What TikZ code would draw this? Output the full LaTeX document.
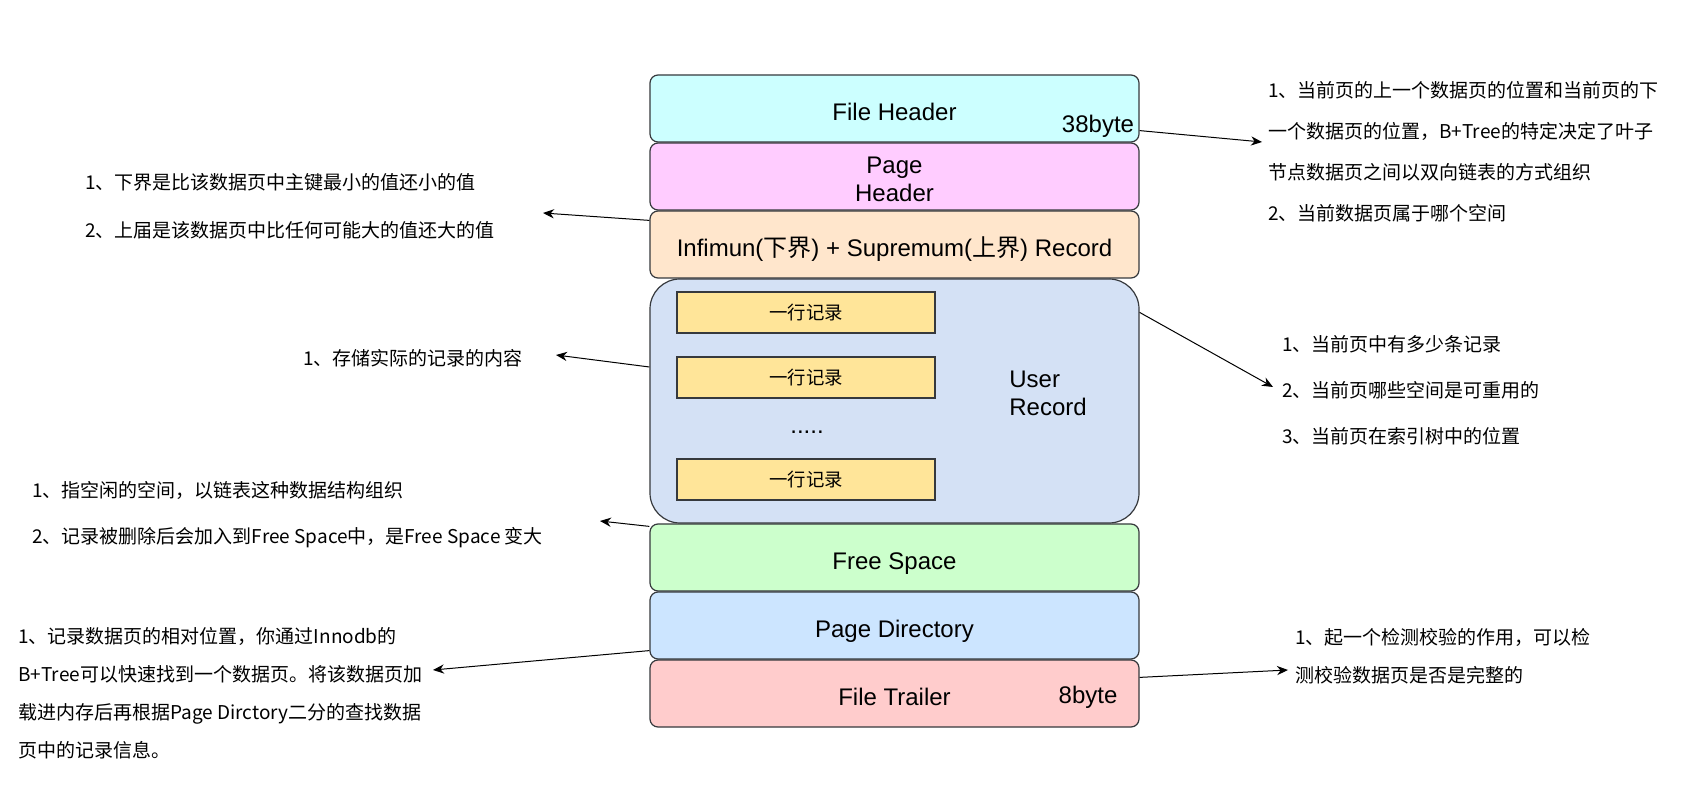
\documentclass[tikz,border=0pt]{standalone}
\usepackage{fontspec}
\setmainfont{Liberation Sans}
\newfontfamily\cjk{Noto Sans CJK SC}
\usetikzlibrary{arrows.meta,calc}
\definecolor{cFH}{HTML}{CCFFFF}
\definecolor{cPH}{HTML}{FFCCFF}
\definecolor{cIS}{HTML}{FFE6CC}
\definecolor{cUR}{HTML}{D4E1F5}
\definecolor{cRow}{HTML}{FFE599}
\definecolor{cFS}{HTML}{CCFFCC}
\definecolor{cPD}{HTML}{CCE5FF}
\definecolor{cFT}{HTML}{FFCCCC}
\definecolor{cEdge}{HTML}{36393D}
\begin{document}
\begin{tikzpicture}[x=0.5pt,y=-0.5pt,
  layer/.style={draw=cEdge, line width=0.6pt, rounded corners=4pt, minimum width=244.5pt, minimum height=33.5pt, inner sep=0pt, text height=12pt, text depth=0pt, font=\fontsize{12}{14}\selectfont, text=black},
  lbl/.style={inner sep=0pt, font=\fontsize{12}{14}\selectfont, text=black},
  rowbox/.style={draw=cEdge, line width=0.6pt, fill=cRow, minimum width=129pt, minimum height=20.5pt, inner sep=0pt, font=\cjk\fontsize{9.2}{11}\selectfont},
  note/.style={inner sep=0pt, anchor=west, align=left, font=\cjk\fontsize{9.5}{#1}\selectfont, text=black},
  note/.default=12,
  conn/.style={draw=black, line width=0.5pt, -{Stealth[length=5.5pt,width=4.6pt]}}
]
\path[fill=white] (0,0) rectangle (1686,806);
\useasboundingbox (0,0) rectangle (1686,806);

% page layers
\node[layer, fill=cFH] (fh) at (894.5,108.5) {File Header};
\node[lbl] (fhb) at (1098,126) {38byte};
\node[layer, fill=cPH] (ph) at (894.5,176.5) {};
\node[lbl, align=center] (pht) at (894.5,179) {Page\\Header};
\node[layer, fill=cIS] (is) at (894.5,244.5) {Infimun({\cjk 下界}) + Supremum({\cjk 上界}) Record};
\node[draw=cEdge, line width=0.6pt, fill=cUR, rounded corners=15pt, minimum width=244.5pt, minimum height=122pt, inner sep=0pt] (ur) at (894.5,401) {};
\node[lbl, anchor=west, align=left] (urt) at (1009,393) {User\\Record};
\node[rowbox] (r1) at (806,312.5) {一行记录};
\node[rowbox] (r2) at (806,377.5) {一行记录};
\node[lbl] (dots) at (807,432) {.....};
\node[rowbox] (r3) at (806,479.5) {一行记录};
\node[layer, fill=cFS] (fs) at (894.5,557.5) {Free Space};
\node[layer, fill=cPD] (pd) at (894.5,625.5) {Page Directory};
\node[layer, fill=cFT] (ft) at (894.5,693.5) {File Trailer};
\node[lbl] (ftb) at (1088,697) {8byte};

% notes
\node[note=20.5] (nA) at (1268,152) {1、当前页的上一个数据页的位置和当前页的下\\一个数据页的位置，B+Tree的特定决定了叶子\\节点数据页之间以双向链表的方式组织\\2、当前数据页属于哪个空间};
\node[note=24] (nB) at (85,206) {1、下界是比该数据页中主键最小的值还小的值\\2、上届是该数据页中比任何可能大的值还大的值};
\node[note] (nC) at (303,358) {1、存储实际的记录的内容};
\node[note=23] (nD) at (1282,390) {1、当前页中有多少条记录\\2、当前页哪些空间是可重用的\\3、当前页在索引树中的位置};
\node[note=23] (nE) at (32,515) {1、指空闲的空间，以链表这种数据结构组织\\2、记录被删除后会加入到Free Space中，是Free Space 变大};
\node[note=19] (nF) at (18,693.5) {1、记录数据页的相对位置，你通过Innodb的\\B+Tree可以快速找到一个数据页。将该数据页加\\载进内存后再根据Page Dirctory二分的查找数据\\页中的记录信息。};
\node[note=19] (nG) at (1295,656) {1、起一个检测校验的作用，可以检\\测校验数据页是否是完整的};

% arrow tips
\coordinate (tA) at (1262,142);
\coordinate (tB) at (543,213);
\coordinate (tC) at (556,355);
\coordinate (tD) at (1273,387);
\coordinate (tE) at (600,521);
\coordinate (tF) at (433,670);
\coordinate (tG) at (1288,670);

\draw[conn] ($(fh.south east)+(0,-12)$) -- (tA);
\draw[conn] ($(is.north west)+(0,10)$) -- (tB);
\draw[conn] ($(ur.west)+(0,-34)$) -- (tC);
\draw[conn] ($(ur.north east)+(0,34)$) -- (tD);
\draw[conn] ($(fs.north west)+(0,3)$) -- (tE);
\draw[conn] ($(pd.south west)+(0,-9)$) -- (tF);
\draw[conn] ($(ft.north east)+(0,18)$) -- (tG);
\end{tikzpicture}
\end{document}
